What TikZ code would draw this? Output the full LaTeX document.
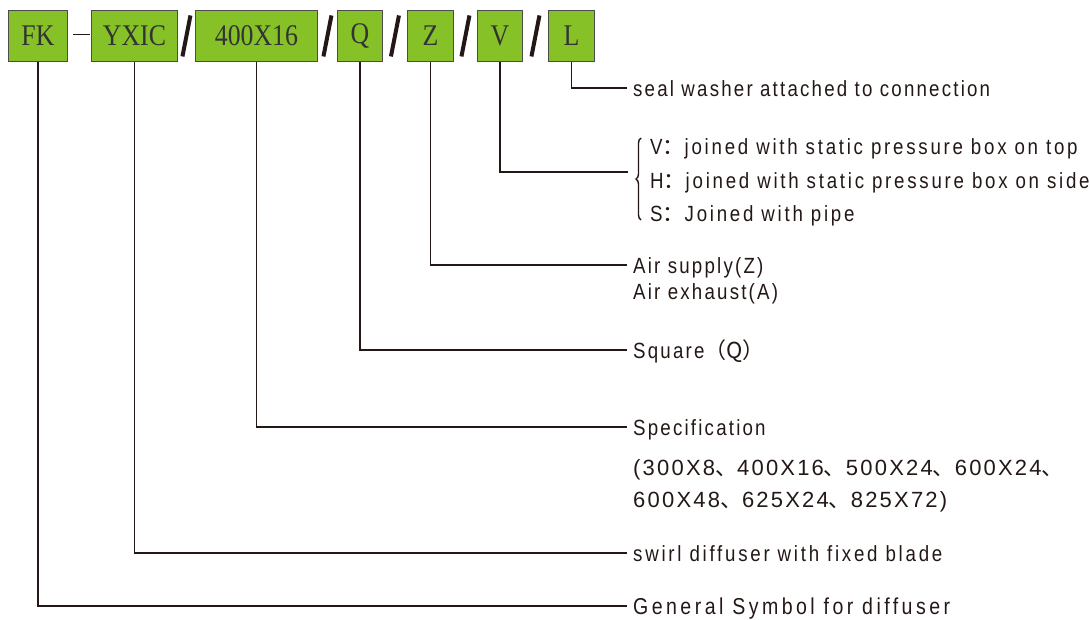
\documentclass[tikz,border=0pt]{standalone}
\usepackage{fontspec}
\setmainfont{Liberation Sans}
\newfontfamily\lab{Liberation Sans}[FakeStretch=0.85,LetterSpace=10]
\newfontfamily\labloose{Liberation Sans}[FakeStretch=0.85,LetterSpace=12.5]
\newfontfamily\labwide{Liberation Sans}[FakeStretch=0.85,LetterSpace=15]
\newfontfamily\labnum{Liberation Sans}[FakeStretch=1.0,LetterSpace=10]
\newfontfamily\boxf{Liberation Serif}[FakeStretch=0.86]
\newfontfamily\cjk{Noto Sans CJK SC}
\usetikzlibrary{calc,decorations.pathreplacing}
\definecolor{codegreen}{HTML}{86C127}
\definecolor{ink}{HTML}{231815}
\definecolor{boxtext}{HTML}{333333}
\begin{document}
\begin{tikzpicture}[x=1pt,y=-1pt,
 codebox/.style={draw=black!70, line width=0.9pt, fill=codegreen, minimum height=51pt, inner sep=0pt,
   font=\boxf\fontsize{30}{30}\selectfont, text=boxtext, anchor=north west},
 lbl/.style={anchor=west, inner xsep=6pt, inner ysep=0pt, text height=16pt, text depth=0pt,
   font=\lab\fontsize{22}{22}\selectfont, text=ink},
 lblloose/.style={lbl, font=\labloose\fontsize{22}{22}\selectfont},
 lblnum/.style={lbl, font=\labnum\fontsize{22}{22}\selectfont},
 lblbig/.style={lbl, font=\labwide\fontsize{23}{23}\selectfont},
 conn/.style={draw=ink, line width=1.3pt},
 slashline/.style={draw=ink, line width=4pt},
 brc/.style={draw=ink, line width=1.4pt, decorate, decoration={brace, amplitude=5pt}}]
\useasboundingbox (0,0) rectangle (1090,619);
% code boxes
\node[codebox, minimum width=59pt] (fk) at (8,10) {FK};
\node[codebox, minimum width=86pt] (yxic) at (91,10) {YXIC};
\node[codebox, minimum width=122pt] (spec) at (195,10) {400X16};
\node[codebox, minimum width=45pt] (q) at (337,10) {Q};
\node[codebox, minimum width=46pt] (z) at (407,10) {Z};
\node[codebox, minimum width=45pt] (v) at (477,10) {V};
\node[codebox, minimum width=46pt] (l) at (548,10) {L};
% separators
\draw[ink, line width=1pt] ($(fk.east)+(5,-1.5)$) -- ($(yxic.west)+(-1,-1.5)$);
\foreach \a/\b in {yxic/spec, spec/q, q/z, z/v, v/l}{
  \draw[slashline] ($(\a.east)!0.5!(\b.west)+(-4,20.5)$) -- ($(\a.east)!0.5!(\b.west)+(4,-20.5)$);
}
% labels
\node[lbl] (ll) at (627,88) {seal washer attached to connection};
\coordinate (vb) at (628,172);
\node[lblloose, inner xsep=0pt] (vt1) at (650,146) {V{\cjk ：}joined with static pressure box on top};
\node[lblloose, inner xsep=0pt] (vt2) at (650,180) {H{\cjk ：}joined with static pressure box on side};
\node[lblloose, inner xsep=0pt] (vt3) at (650,213) {S{\cjk ：}Joined with pipe};
\node[lbl] (zl) at (627,265) {Air supply(Z)};
\node[lbl] (zl2) at (627,291) {Air exhaust(A)};
\node[lbl] (ql) at (627,350) {Square{\cjk （Q）}};
\node[lbl] (sl) at (627,427) {Specification};
\node[lblnum] (sl2) at (627,467) {(300X8{\cjk 、}400X16{\cjk 、}500X24{\cjk 、}600X24{\cjk 、}};
\node[lblnum] (sl3) at (627,499) {600X48{\cjk 、}625X24{\cjk 、}825X72)};
\node[lblloose] (yl) at (627,553) {swirl diffuser with fixed blade};
\node[lblbig] (fl) at (627,606) {General Symbol for diffuser};
% connectors
\draw[conn] (l.south) |- (ll.west);
\draw[conn] (v.south) |- (vb);
\draw[brc] (641,220) -- (641,138);
\draw[conn] (z.south) |- (zl.west);
\draw[conn] (q.south) |- (ql.west);
\draw[conn] (spec.south) |- (sl.west);
\draw[conn] (yxic.south) |- (yl.west);
\draw[conn] (fk.south) |- (fl.west);
\end{tikzpicture}
\end{document}
